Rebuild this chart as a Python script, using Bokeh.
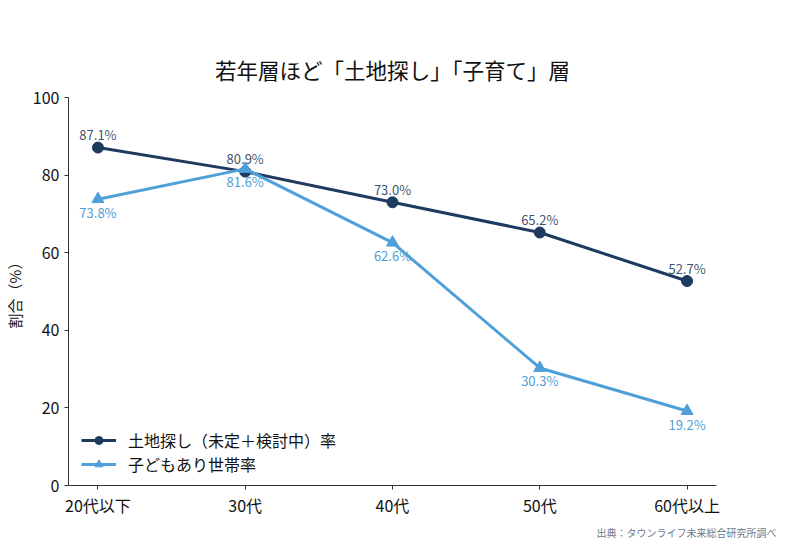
from bokeh.plotting import figure
from bokeh.models import ColumnDataSource, Range1d, FixedTicker, Legend, Title
from bokeh.core.properties import value
from bokeh.embed import file_html
from bokeh.resources import INLINE

categories = ["20代以下", "30代", "40代", "50代", "60代以上"]
land_search = [87.1, 80.9, 73.0, 65.2, 52.7]
with_children = [73.8, 81.6, 62.6, 30.3, 19.2]
y_ticks = [0, 20, 40, 60, 80, 100]

FONT = "Noto Sans CJK JP"
C1 = "#1f3a5f"
C2 = "#4f9fd9"

xs = list(range(len(categories)))
src1 = ColumnDataSource(dict(x=xs, y=land_search, t=[f"{v:.1f}%" for v in land_search]))
src2 = ColumnDataSource(dict(x=xs, y=with_children, t=[f"{v:.1f}%" for v in with_children]))

p = figure(width=798, height=560, output_backend="svg", toolbar_location=None,
           x_range=Range1d(-0.2, 4.2), y_range=Range1d(0, 100),
           min_border_left=67, min_border_right=82, min_border_top=97, min_border_bottom=75)
p.outline_line_color = None
p.xgrid.visible = False
p.ygrid.visible = False

p.title.text = "若年層ほど「土地探し」「子育て」層"
p.title.align = "center"
p.title.text_font = FONT
p.title.text_font_size = "21.5px"
p.title.text_font_style = "normal"
p.title.text_color = "#111111"
p.title.standoff = 26

for ax in (p.xaxis[0], p.yaxis[0]):
    ax.major_label_text_font = FONT
    ax.major_label_text_font_size = "16px"
    ax.major_label_text_color = "#111111"
    ax.axis_line_color = "#333333"
    ax.major_tick_line_color = "#333333"
    ax.major_tick_out = 4
    ax.major_tick_in = 0
    ax.minor_tick_line_color = None

p.xaxis.ticker = FixedTicker(ticks=xs)
p.xaxis.major_label_overrides = {i: c for i, c in enumerate(categories)}
p.xaxis.major_label_standoff = 3
p.yaxis.ticker = FixedTicker(ticks=y_ticks)
p.yaxis.major_label_standoff = 5
p.yaxis.axis_label = "割合（%）"
p.yaxis.axis_label_text_font = FONT
p.yaxis.axis_label_text_font_size = "15px"
p.yaxis.axis_label_text_font_style = "normal"
p.yaxis.axis_label_text_color = "#111111"
p.yaxis.axis_label_standoff = 5

p.text("x", "y", text="t", source=src1, text_font=value(FONT), text_font_size="13px",
       text_color=C1, text_alpha=0.9, text_align="center", text_baseline="middle", y_offset=-13)
p.text("x", "y", text="t", source=src2, text_font=value(FONT), text_font_size="13px",
       text_color=C2, text_align="center", text_baseline="middle", y_offset=13)

l1 = p.line("x", "y", source=src1, line_color=C1, line_width=3)
m1 = p.scatter("x", "y", source=src1, marker="circle", size=11, fill_color=C1, line_color=C1)
l2 = p.line("x", "y", source=src2, line_color=C2, line_width=3)
m2 = p.scatter("x", "y", source=src2, marker="triangle", size=12, fill_color=C2, line_color=C2)

legend = Legend(items=[("土地探し（未定＋検討中）率", [l1, m1]), ("子どもあり世帯率", [l2, m2])],
                location=(13, 9), border_line_color=None, background_fill_alpha=0,
                label_text_font=FONT, label_text_font_size="16px", label_text_color="#111111",
                glyph_width=35, glyph_height=20, label_height=20, spacing=0, padding=8,
                label_standoff=12)
p.add_layout(legend, "center")

note = Title(text="出典：タウンライフ未来総合研究所調べ", align="left", offset=528,
             text_font=FONT, text_font_size="10px", text_font_style="normal",
             text_color="#6b7b8c", standoff=7)
p.add_layout(note, "below")

open("out.html", "w").write(file_html(p, INLINE))
